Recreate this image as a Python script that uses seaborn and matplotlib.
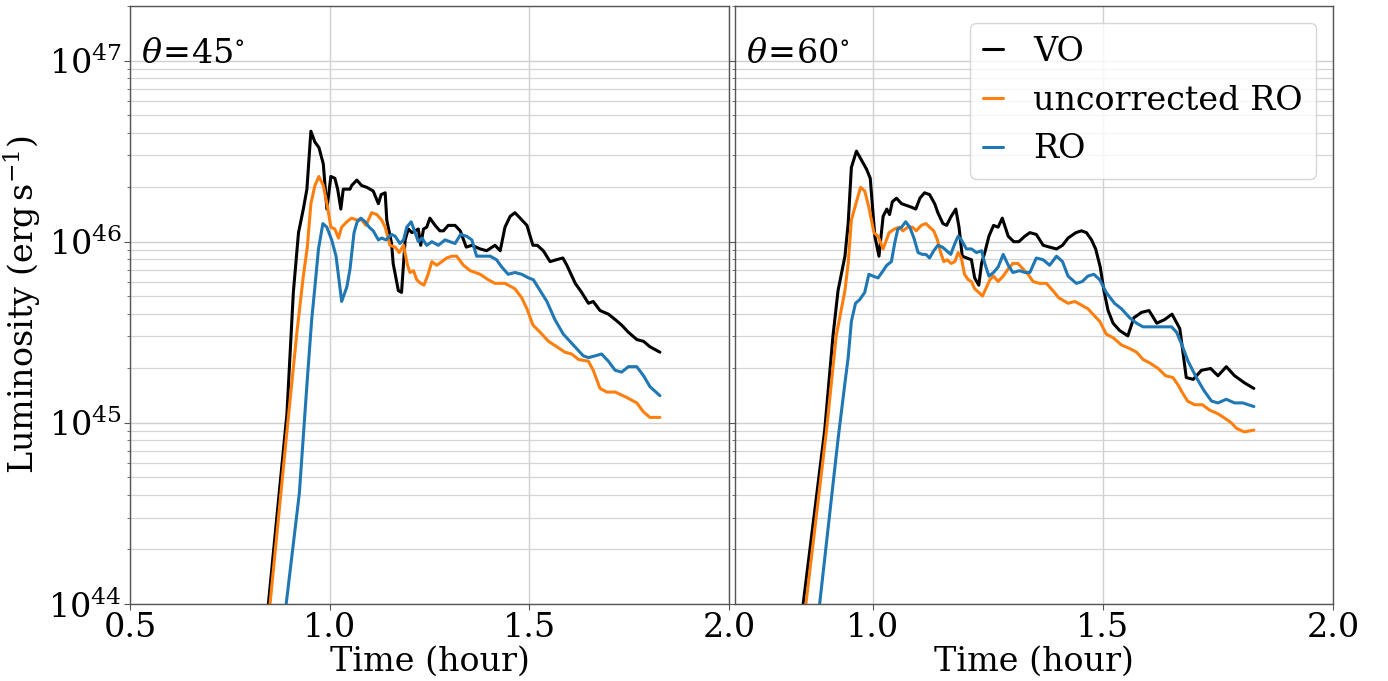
import numpy as np
import pandas as pd
import matplotlib
matplotlib.use("Agg")
import matplotlib.pyplot as plt
import seaborn as sns

# ---------------- data (time in hours, log10 luminosity in erg/s) ----------------
# theta = 45 deg
t45_vo = [0.831, 0.893, 0.909, 0.922, 0.934, 0.943, 0.953, 0.963, 0.973, 0.984, 0.993, 1.003, 1.013, 1.020,
          1.028, 1.034, 1.043, 1.051, 1.055, 1.068, 1.080, 1.093, 1.109, 1.122, 1.129, 1.139, 1.143, 1.155,
          1.159, 1.172, 1.180, 1.189, 1.197, 1.206, 1.214, 1.222, 1.228, 1.235, 1.243, 1.251, 1.264, 1.276,
          1.285, 1.297, 1.314, 1.327, 1.342, 1.356, 1.377, 1.393, 1.414, 1.427, 1.439, 1.452, 1.464, 1.477,
          1.494, 1.509, 1.520, 1.535, 1.552, 1.567, 1.584, 1.594, 1.615, 1.631, 1.648, 1.660, 1.677, 1.698,
          1.715, 1.731, 1.748, 1.769, 1.786, 1.802, 1.827]
lg45_vo = [43.65, 45.05, 45.72, 46.05, 46.18, 46.29, 46.61, 46.55, 46.52, 46.43, 46.18, 46.36, 46.35, 46.29,
           46.18, 46.29, 46.29, 46.29, 46.31, 46.34, 46.31, 46.30, 46.28, 46.21, 46.26, 46.27, 46.12, 45.99,
           45.88, 45.73, 45.72, 46.01, 46.07, 46.05, 46.06, 46.07, 45.98, 46.07, 46.08, 46.13, 46.09, 46.06,
           46.06, 46.09, 46.09, 46.06, 45.97, 45.98, 45.96, 45.95, 45.98, 45.95, 46.08, 46.14, 46.16, 46.13,
           46.09, 45.98, 45.98, 45.95, 45.89, 45.90, 45.91, 45.87, 45.77, 45.72, 45.66, 45.67, 45.62, 45.60,
           45.57, 45.54, 45.50, 45.46, 45.45, 45.42, 45.39]

t45_uro = [0.836, 0.896, 0.918, 0.934, 0.944, 0.953, 0.963, 0.973, 0.984, 0.994, 1.003, 1.013, 1.022, 1.030,
           1.043, 1.055, 1.068, 1.080, 1.091, 1.105, 1.118, 1.130, 1.139, 1.151, 1.164, 1.174, 1.185, 1.195,
           1.201, 1.210, 1.218, 1.228, 1.236, 1.245, 1.256, 1.268, 1.281, 1.293, 1.306, 1.318, 1.335, 1.352,
           1.377, 1.397, 1.414, 1.439, 1.464, 1.481, 1.494, 1.509, 1.527, 1.548, 1.569, 1.589, 1.606, 1.623,
           1.648, 1.660, 1.677, 1.694, 1.715, 1.744, 1.769, 1.786, 1.802, 1.827]
lg45_uro = [43.67, 45.02, 45.50, 45.81, 45.97, 46.21, 46.31, 46.36, 46.31, 46.20, 46.08, 46.07, 46.02, 46.08,
            46.11, 46.13, 46.12, 46.12, 46.09, 46.16, 46.15, 46.12, 46.08, 45.98, 45.97, 45.94, 45.98, 45.87,
            45.83, 45.84, 45.79, 45.77, 45.76, 45.81, 45.89, 45.87, 45.89, 45.91, 45.92, 45.92, 45.87, 45.84,
            45.82, 45.79, 45.77, 45.77, 45.74, 45.69, 45.63, 45.54, 45.50, 45.45, 45.42, 45.39, 45.38, 45.35,
            45.34, 45.29, 45.19, 45.17, 45.17, 45.14, 45.11, 45.06, 45.03, 45.03]

t45_ro = [0.876, 0.924, 0.944, 0.955, 0.963, 0.972, 0.983, 0.993, 1.005, 1.016, 1.030, 1.043, 1.051, 1.061,
          1.069, 1.078, 1.089, 1.099, 1.109, 1.122, 1.130, 1.141, 1.155, 1.164, 1.176, 1.185, 1.193, 1.204,
          1.214, 1.222, 1.231, 1.243, 1.256, 1.272, 1.289, 1.301, 1.314, 1.328, 1.343, 1.356, 1.368, 1.385,
          1.402, 1.418, 1.431, 1.447, 1.464, 1.481, 1.498, 1.510, 1.527, 1.544, 1.564, 1.585, 1.610, 1.635,
          1.648, 1.665, 1.681, 1.698, 1.715, 1.731, 1.748, 1.769, 1.786, 1.802, 1.827]
lg45_ro = [43.72, 44.61, 45.24, 45.57, 45.75, 45.96, 46.10, 46.08, 46.01, 45.92, 45.67, 45.75, 45.85, 46.05,
           46.11, 46.13, 46.11, 46.08, 46.06, 46.01, 46.02, 46.01, 46.04, 46.03, 45.99, 46.01, 46.08, 46.11,
           46.05, 46.00, 46.02, 45.98, 46.00, 45.98, 46.01, 46.00, 45.99, 46.04, 46.03, 46.01, 45.92, 45.92,
           45.92, 45.90, 45.86, 45.82, 45.83, 45.82, 45.80, 45.79, 45.73, 45.67, 45.57, 45.49, 45.43, 45.37,
           45.36, 45.37, 45.38, 45.34, 45.29, 45.28, 45.31, 45.31, 45.26, 45.20, 45.15]

# theta = 60 deg
t60_vo = [0.834, 0.895, 0.913, 0.924, 0.939, 0.946, 0.953, 0.964, 0.975, 0.986, 0.994, 1.004, 1.013, 1.022,
          1.030, 1.036, 1.042, 1.051, 1.062, 1.073, 1.084, 1.093, 1.102, 1.112, 1.123, 1.134, 1.141, 1.152,
          1.160, 1.170, 1.180, 1.187, 1.194, 1.204, 1.214, 1.221, 1.230, 1.236, 1.243, 1.252, 1.262, 1.272,
          1.281, 1.294, 1.306, 1.317, 1.330, 1.341, 1.355, 1.370, 1.384, 1.399, 1.412, 1.424, 1.441, 1.453,
          1.464, 1.475, 1.484, 1.494, 1.502, 1.511, 1.522, 1.536, 1.554, 1.567, 1.584, 1.600, 1.617, 1.634,
          1.650, 1.667, 1.681, 1.696, 1.714, 1.734, 1.750, 1.768, 1.786, 1.808, 1.828]
lg60_vo = [43.71, 44.96, 45.48, 45.73, 45.92, 46.10, 46.41, 46.50, 46.45, 46.40, 46.35, 46.03, 45.92, 46.14,
           46.18, 46.15, 46.22, 46.24, 46.21, 46.20, 46.19, 46.18, 46.24, 46.27, 46.26, 46.21, 46.16, 46.10,
           46.09, 46.14, 46.18, 46.08, 45.92, 45.91, 45.90, 45.80, 45.76, 45.88, 45.94, 46.03, 46.09, 46.08,
           46.13, 46.03, 46.00, 46.00, 46.03, 46.05, 46.04, 45.98, 45.97, 45.96, 45.98, 46.02, 46.05, 46.06,
           46.05, 46.01, 45.96, 45.86, 45.73, 45.62, 45.55, 45.51, 45.48, 45.58, 45.61, 45.62, 45.55, 45.57,
           45.60, 45.52, 45.25, 45.24, 45.29, 45.30, 45.26, 45.31, 45.26, 45.22, 45.19]

t60_uro = [0.841, 0.899, 0.920, 0.939, 0.946, 0.953, 0.964, 0.973, 0.982, 0.991, 1.002, 1.011, 1.022, 1.035,
           1.047, 1.057, 1.065, 1.076, 1.086, 1.094, 1.105, 1.115, 1.123, 1.132, 1.140, 1.147, 1.154, 1.161,
           1.170, 1.178, 1.185, 1.192, 1.199, 1.207, 1.214, 1.221, 1.230, 1.238, 1.247, 1.254, 1.262, 1.272,
           1.283, 1.294, 1.304, 1.315, 1.326, 1.337, 1.348, 1.362, 1.377, 1.391, 1.404, 1.424, 1.439, 1.453,
           1.467, 1.478, 1.493, 1.507, 1.522, 1.540, 1.558, 1.573, 1.587, 1.602, 1.620, 1.636, 1.652, 1.663,
           1.674, 1.684, 1.699, 1.716, 1.732, 1.750, 1.768, 1.779, 1.790, 1.807, 1.828]
lg60_uro = [43.72, 44.96, 45.48, 45.73, 45.88, 46.12, 46.22, 46.30, 46.28, 46.19, 46.05, 46.03, 45.96, 46.05,
            46.07, 46.08, 46.06, 46.08, 46.08, 46.06, 46.09, 46.10, 46.08, 46.06, 46.01, 45.94, 45.89, 45.90,
            45.88, 45.89, 45.94, 45.91, 45.82, 45.79, 45.78, 45.74, 45.72, 45.70, 45.75, 45.79, 45.81, 45.78,
            45.81, 45.85, 45.88, 45.88, 45.85, 45.82, 45.78, 45.77, 45.77, 45.73, 45.69, 45.66, 45.67, 45.65,
            45.63, 45.60, 45.56, 45.49, 45.47, 45.43, 45.41, 45.39, 45.35, 45.33, 45.30, 45.26, 45.25, 45.21,
            45.16, 45.12, 45.10, 45.10, 45.07, 45.05, 45.02, 45.00, 44.97, 44.95, 44.96]

t60_ro = [0.873, 0.924, 0.939, 0.946, 0.953, 0.962, 0.971, 0.982, 0.991, 1.000, 1.011, 1.022, 1.030, 1.040,
          1.047, 1.054, 1.062, 1.071, 1.080, 1.089, 1.098, 1.107, 1.115, 1.123, 1.132, 1.141, 1.151, 1.160,
          1.169, 1.178, 1.185, 1.192, 1.203, 1.214, 1.225, 1.236, 1.243, 1.252, 1.262, 1.272, 1.283, 1.294,
          1.304, 1.319, 1.330, 1.341, 1.355, 1.370, 1.384, 1.399, 1.412, 1.424, 1.442, 1.455, 1.467, 1.480,
          1.493, 1.507, 1.525, 1.540, 1.558, 1.573, 1.587, 1.616, 1.649, 1.660, 1.670, 1.685, 1.703, 1.719,
          1.736, 1.750, 1.768, 1.786, 1.804, 1.828]
lg60_ro = [43.75, 44.91, 45.22, 45.36, 45.56, 45.66, 45.68, 45.72, 45.82, 45.81, 45.80, 45.84, 45.87, 45.89,
           45.99, 46.07, 46.08, 46.11, 46.08, 46.02, 45.94, 45.93, 45.93, 45.91, 45.95, 45.98, 45.97, 45.95,
           45.93, 45.99, 46.03, 46.01, 45.96, 45.96, 45.94, 45.95, 45.88, 45.81, 45.83, 45.86, 45.93, 45.87,
           45.83, 45.84, 45.83, 45.83, 45.91, 45.90, 45.87, 45.92, 45.89, 45.81, 45.77, 45.78, 45.81, 45.82,
           45.79, 45.72, 45.66, 45.63, 45.58, 45.55, 45.53, 45.53, 45.53, 45.50, 45.44, 45.34, 45.25, 45.18,
           45.12, 45.11, 45.13, 45.11, 45.11, 45.09]

series_labels = ["VO", "uncorrected RO", "RO"]
series_colors = ["black", "#ff7f0e", "#1f77b4"]
panel_titles = [r"$\theta\!=\!45^{\circ}$", r"$\theta\!=\!60^{\circ}$"]
x_ticks_left = [0.5, 1.0, 1.5, 2.0]
x_ticks_right = [1.0, 1.5, 2.0]

panels = [
    [(t45_vo, lg45_vo), (t45_uro, lg45_uro), (t45_ro, lg45_ro)],
    [(t60_vo, lg60_vo), (t60_uro, lg60_uro), (t60_ro, lg60_ro)],
]

# ---------------- style ----------------
FS = 24
sns.set_style("whitegrid")
plt.rcParams.update({
    "font.family": ["DejaVu Serif"],
    "mathtext.fontset": "dejavuserif",
    "font.size": FS,
    "text.color": "black",
    "axes.labelcolor": "black",
    "axes.edgecolor": "#555555",
    "axes.linewidth": 1.0,
    "grid.color": "#d0d0d0",
    "grid.linewidth": 1.0,
    "xtick.bottom": True,
    "ytick.left": True,
    "xtick.color": "#555555",
    "ytick.color": "#555555",
    "xtick.labelcolor": "black",
    "ytick.labelcolor": "black",
    "xtick.major.size": 4,
    "ytick.major.size": 4,
    "ytick.minor.size": 2.5,
    "xtick.major.pad": 2,
    "ytick.major.pad": 2,
    "legend.fontsize": FS,
})

W, H = 1388, 681
fig = plt.figure(figsize=(W / 100, H / 100), dpi=100)
ax1 = fig.add_axes([130 / W, 1 - 604 / H, 599 / W, 598 / H])
ax2 = fig.add_axes([735 / W, 1 - 604 / H, 598 / W, 598 / H], sharey=ax1)

for ax, data, title in zip([ax1, ax2], panels, panel_titles):
    for (t, lg), lab, col in zip(data, series_labels, series_colors):
        df = pd.DataFrame({"t": t, "L": np.power(10.0, lg)})
        sns.lineplot(data=df, x="t", y="L", ax=ax, color=col, lw=2.2, label=lab,
                     estimator=None, sort=False)
    ax.set_yscale("log")
    ax.set_ylim(1e44, 2e47)
    ax.grid(True, which="major", color="#d0d0d0", lw=1.0)
    ax.yaxis.grid(True, which="minor", color="#d5d5d5", lw=0.9)
    ax.set_xlabel("Time (hour)", labelpad=1)
    ax.text(0.019, 0.905, title, transform=ax.transAxes, fontsize=FS, va="baseline", ha="left")
    if ax.get_legend() is not None:
        ax.get_legend().remove()

ax1.set_xlim(0.5, 2.0)
ax1.set_xticks(x_ticks_left)
ax2.set_xlim(0.7, 2.0)
ax2.set_xticks(x_ticks_right)
ax1.set_ylabel(r"Luminosity $(\mathrm{erg\,s^{-1}})$")
ax2.set_ylabel("")
ax2.tick_params(axis="y", which="both", labelleft=False)

ax2.legend(loc="upper right", handlelength=0.6, handletextpad=0.9, fontsize=FS)

fig.savefig("out.png", dpi=100)
